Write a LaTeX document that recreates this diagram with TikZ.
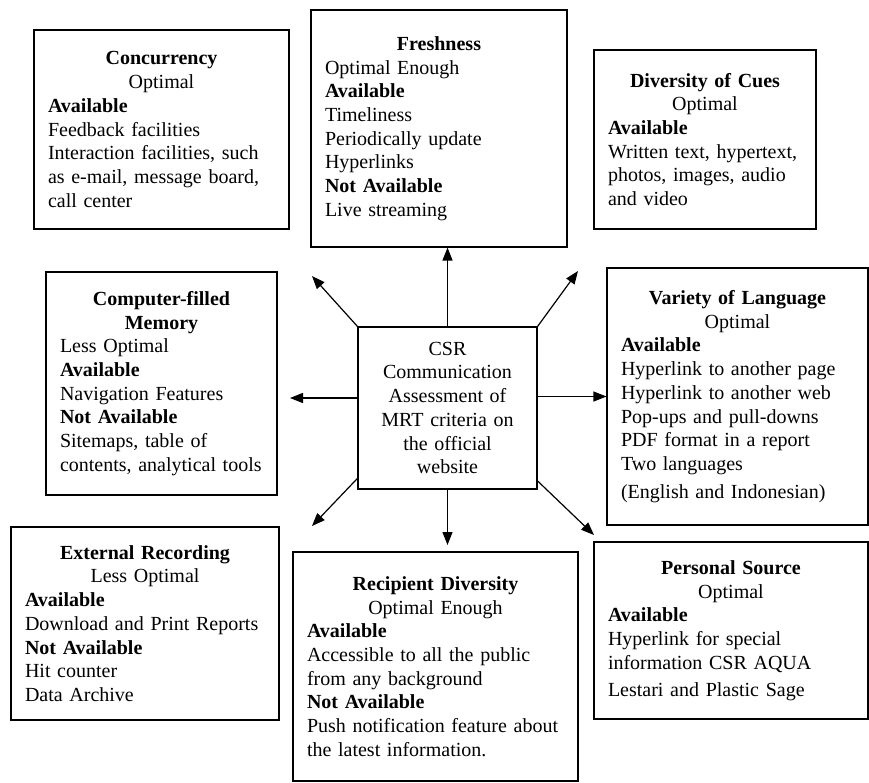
\documentclass[tikz,border=0pt]{standalone}
\usepackage{fontspec}
\setmainfont{Liberation Serif}
\usetikzlibrary{positioning}
\usetikzlibrary{arrows.meta}
\tikzset{
    panel/.style = {rectangle, draw=black, line width=1.1pt, inner xsep=14pt, inner ysep=4pt, align=left, font=\fontsize{20}{23.7}\selectfont},
    hubnode/.style = {rectangle, draw=black, line width=1.1pt, inner xsep=10pt, inner ysep=4pt, align=center, font=\fontsize{20}{23.7}\selectfont},
    edgea/.style = {-{Triangle[length=13pt,width=10pt]}, line width=1.2pt}
}

\begin{document}
\begin{tikzpicture}[x=1pt,y=-1pt]
  \useasboundingbox (0,0) rectangle (869,782);

  \node[hubnode, text width=159pt, minimum width=179pt, minimum height=162pt] (hub) at (447.5,408)
    {CSR\\Communication\\Assessment of\\MRT criteria on\\the official\\website};

  \node[panel, text width=227pt, minimum width=255pt, minimum height=199pt] (conc) at (161.5,129.5)
    {{\centering\textbf{Concurrency}\\Optimal\par}\textbf{Available}\\Feedback facilities\\Interaction facilities, such\\as e-mail, message board,\\call center};
  \node[panel, text width=228pt, minimum width=256pt, minimum height=237pt] (fresh) at (439,128.5)
    {{\centering\textbf{Freshness}\par}Optimal Enough\\\textbf{Available}\\Timeliness\\Periodically update\\Hyperlinks\\\textbf{Not Available}\\Live streaming};
  \node[panel, text width=194pt, minimum width=222pt, minimum height=179pt] (cues) at (705,139.5)
    {{\centering\textbf{Diversity of Cues}\\Optimal\par}\textbf{Available}\\Written text, hypertext,\\photos, images, audio\\and video};
  \node[panel, text width=203pt, minimum width=231pt, minimum height=223pt] (memory) at (161.5,383.5)
    {{\centering\textbf{Computer-filled}\\\textbf{Memory}\par}Less Optimal\\\textbf{Available}\\Navigation Features\\\textbf{Not Available}\\Sitemaps, table of\\contents, analytical tools};
  \node[panel, text width=233pt, minimum width=261pt, minimum height=257pt] (lang) at (737.5,396.5)
    {{\centering\textbf{Variety of Language}\\Optimal\par}\textbf{Available}\\Hyperlink to another page\\Hyperlink to another web\\Pop-ups and pull-downs\\PDF format in a report\\Two languages\\[4pt](English and Indonesian)};
  \node[panel, text width=240pt, minimum width=268pt, minimum height=193pt] (extrec) at (145,623.5)
    {{\centering\textbf{External Recording}\\Less Optimal\par}\textbf{Available}\\Download and Print Reports\\\textbf{Not Available}\\Hit counter\\Data Archive};
  \node[panel, text width=257pt, minimum width=285pt, minimum height=229pt] (recip) at (435.5,666.5)
    {{\centering\textbf{Recipient Diversity}\\Optimal Enough\par}\textbf{Available}\\Accessible to all the public\\from any background\\\textbf{Not Available}\\Push notification feature about\\the latest information.};
  \node[panel, text width=246pt, minimum width=274pt, minimum height=177pt] (persrc) at (731,630.5)
    {{\centering\textbf{Personal Source}\\Optimal\par}\textbf{Available}\\Hyperlink for special\\information CSR AQUA\\[3pt]Lestari and Plastic Sage};

  % arrow tips
  \coordinate (ulTip) at (312,276);
  \coordinate (urTip) at (578,271);
  \coordinate (lTip)  at (290,398);
  \coordinate (llTip) at (312,526);
  \coordinate (dTip)  at (448,545);
  \coordinate (lrTip) at (594,535);

  \draw[edgea] (hub.north) -- (hub.north |- fresh.south);
  \draw[edgea] (hub.north west) -- (ulTip);
  \draw[edgea] (hub.north east) -- (urTip);
  \draw[edgea] (hub.west |- lTip) -- (lTip);
  \draw[edgea] (hub.east |- lang.west) -- (lang.west);
  \draw[edgea] (hub.218) -- (llTip);
  \draw[edgea] (hub.south) -- (hub.south |- dTip);
  \draw[edgea] (hub.-39) -- (lrTip);
\end{tikzpicture}
\end{document}
